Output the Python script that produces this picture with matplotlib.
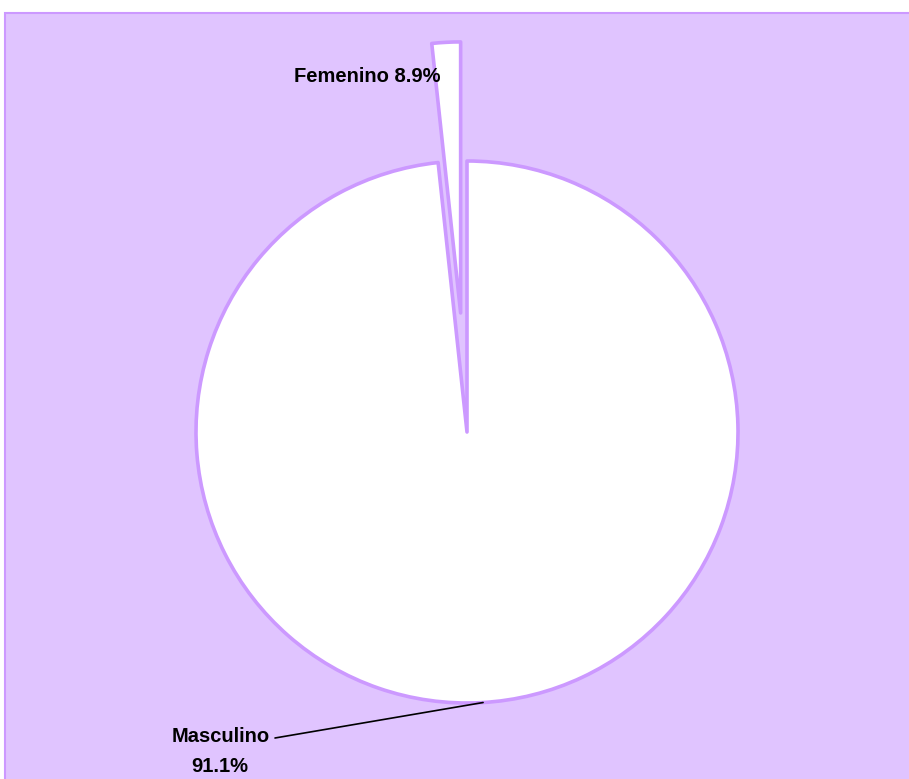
import numpy as np
import matplotlib.pyplot as plt
from matplotlib.patches import Rectangle

# data
categories = ['Femenino', 'Masculino']
shares = [8.9, 91.1]          # percentages printed on the labels
slice_sizes = [1.7, 98.3]     # angular share as drawn in the reference
explode = [0.44, 0.0]

bg_color = '#E0C4FF'
edge_color = '#CC99FF'

W, H = 909, 779
cx, cy, R = 467, 432, 271   # pie centre / radius in pixels

fig = plt.figure(figsize=(W / 100, H / 100), dpi=100)
fig.patch.set_facecolor('white')

ax = fig.add_axes([0, 0, 1, 1])

wedges, _ = ax.pie(slice_sizes, explode=explode, startangle=90, counterclock=True,
                   colors=['white', 'white'], radius=1.0,
                   wedgeprops=dict(edgecolor=edge_color, linewidth=2.6, joinstyle='round',
                                   zorder=2))

ax.set_xlim(-cx / R, (W - cx) / R)
ax.set_ylim((cy - H) / R, cy / R)
ax.set_aspect('auto')
ax.axis('off')

# purple chart area with its border
ax.add_patch(Rectangle((5 / W, -0.01), 1.0, 1.01 - 13 / H, transform=ax.transAxes,
                       facecolor=bg_color, edgecolor=edge_color, linewidth=1.5,
                       zorder=0, clip_on=False))


def px(x, y):
    return (x - cx) / R, (cy - y) / R


font = dict(family='Liberation Sans', weight='bold', fontsize=14.5, color='black')

# Femenino label, next to the exploded slice
fx, fy = px(440, 77)
ax.text(fx, fy, f'{categories[0]} {shares[0]}%', ha='right', va='center', **font)

# Masculino label with a leader line to the bottom of the pie
ang = np.deg2rad(273.4)
lx, ly = px(275, 738)
ax.annotate('', xy=(np.cos(ang), np.sin(ang)), xytext=(lx, ly),
            arrowprops=dict(arrowstyle='-', color='black', lw=1.2, shrinkA=0, shrinkB=0))
tx, ty = px(270, 736)
ax.text(tx, ty, categories[1], ha='right', va='center', **font)
tx, ty = px(220, 767)
ax.text(tx, ty, f'{shares[1]}%', ha='center', va='center', **font)

fig.savefig('out.png', dpi=100, facecolor=fig.get_facecolor())
